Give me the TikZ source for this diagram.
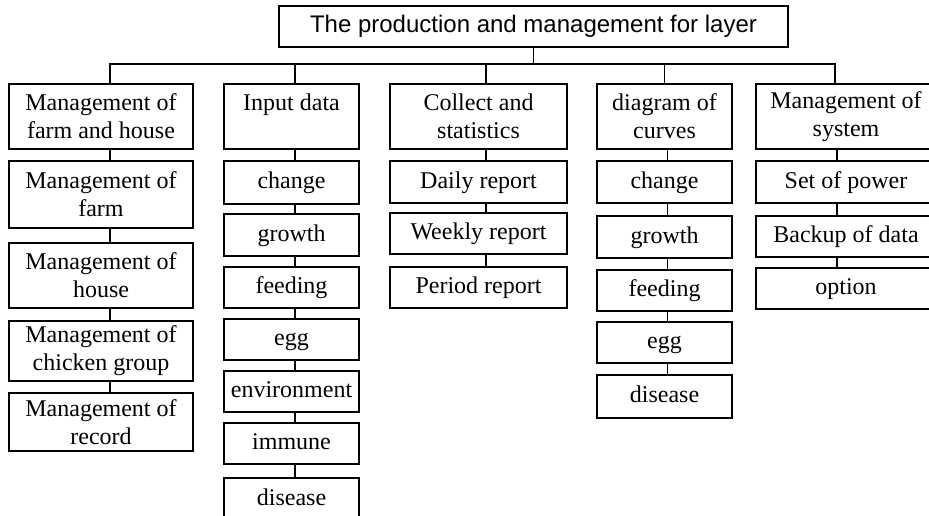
\documentclass[tikz,border=0pt]{standalone}
\usepackage{fontspec}
\setmainfont{Liberation Serif}
\newfontfamily\headfont{Liberation Sans}
\usetikzlibrary{positioning,calc}

\begin{document}
\begin{tikzpicture}[
  x=0.5pt, y=-0.5pt,
  box/.style={draw, line width=0.9pt, inner sep=0pt, align=center, anchor=north,
    font=\fontsize{12}{14}\selectfont},
  item/.style={box, text height=9.5pt, text depth=3pt},
  link/.style={line width=0.75pt},
]
  \clip (0,0) rectangle (929,515);

  % ── Root ──
  \node[item, font=\headfont\fontsize{12}{14}\selectfont,
    minimum width=254.5pt, minimum height=20.5pt] (root) at (533.5,5)
    {The production and management for layer};
  \coordinate (bus) at (533.5,64);
  \draw[link] (root.south) -- (bus);

  % ── Column 1: farm and house ──
  \begin{scope}[shift={(101,0)}, every node/.append style={minimum width=92pt}]
    \node[box, minimum height=32.5pt] (farmhouse) at (0,83) {Management of\\farm and house};
    \node[box, minimum height=33.5pt] (farm) at (0,160) {Management of\\farm};
    \node[box, minimum height=32.5pt] (house) at (0,242) {Management of\\house};
    \node[box, minimum height=30pt] (group) at (0,320) {Management of\\chicken group};
    \node[box, minimum height=29pt] (record) at (0,392) {Management of\\record};
  \end{scope}
  \draw[link] (bus) -| ([xshift=4.5pt]farmhouse.north);
  \foreach \a/\b in {farmhouse/farm, farm/house, house/group, group/record}
    \draw[link] ([xshift=4.5pt]\a.south) -- ([xshift=4.5pt]\b.north);

  % ── Column 2: input data ──
  \begin{scope}[shift={(291.5,0)}, every node/.append style={minimum width=67.5pt}]
    \node[box, minimum height=32.5pt] (input) at (0,83) {Input data\\\mbox{}};
    \node[item, minimum height=21.5pt] (inchange) at (0,160) {change};
    \node[item, minimum height=21pt] (ingrowth) at (0,213) {growth};
    \node[item, minimum height=20.5pt] (infeeding) at (0,266) {feeding};
    \node[item, minimum height=20.5pt] (inegg) at (0,318) {egg};
    \node[item, minimum height=20.5pt] (inenv) at (0,370) {environment};
    \node[item, minimum height=20.5pt] (inimmune) at (0,422) {immune};
    \node[item, minimum height=21pt] (indisease) at (0,477) {disease};
  \end{scope}
  \draw[link] (bus) -| ([xshift=1.75pt]input.north);
  \foreach \a/\b in {input/inchange, inchange/ingrowth, ingrowth/infeeding,
      infeeding/inegg, inegg/inenv, inenv/inimmune, inimmune/indisease}
    \draw[link] ([xshift=1.75pt]\a.south) -- ([xshift=1.75pt]\b.north);

  % ── Column 3: collect and statistics ──
  \begin{scope}[shift={(478.5,0)}, every node/.append style={minimum width=88.5pt}]
    \node[box, minimum height=32.5pt] (collect) at (0,83) {Collect and\\statistics};
    \node[item, minimum height=21pt] (daily) at (0,160) {Daily report};
    \node[item, minimum height=20.5pt] (weekly) at (0,212) {Weekly report};
    \node[item, minimum height=20.5pt] (period) at (0,266) {Period report};
  \end{scope}
  \draw[link] (bus) -| ([xshift=3.75pt]collect.north);
  \foreach \a/\b in {collect/daily, daily/weekly, weekly/period}
    \draw[link] ([xshift=3.75pt]\a.south) -- ([xshift=3.75pt]\b.north);

  % ── Column 4: diagram of curves ──
  \begin{scope}[shift={(664.5,0)}, every node/.append style={minimum width=67.5pt}]
    \node[box, minimum height=32.5pt] (curves) at (0,83) {diagram of\\curves};
    \node[item, minimum height=21pt] (cvchange) at (0,160) {change};
    \node[item, minimum height=21pt] (cvgrowth) at (0,215) {growth};
    \node[item, minimum height=20.5pt] (cvfeeding) at (0,269) {feeding};
    \node[item, minimum height=20.5pt] (cvegg) at (0,321) {egg};
    \node[item, minimum height=21.5pt] (cvdisease) at (0,374) {disease};
  \end{scope}
  \draw[link] (bus) -| (curves.north);
  \foreach \a/\b in {curves/cvchange, cvchange/cvgrowth, cvgrowth/cvfeeding,
      cvfeeding/cvegg, cvegg/cvdisease}
    \draw[link] ([xshift=1.5pt]\a.south) -- ([xshift=1.5pt]\b.north);

  % ── Column 5: management of system ──
  \begin{scope}[shift={(846,0)}, every node/.append style={minimum width=90pt}]
    \node[box, minimum height=32.5pt] (system) at (0,83) {Management of\\system};
    \node[item, minimum height=21pt] (power) at (0,160) {Set of power};
    \node[item, minimum height=20.5pt] (backup) at (0,215) {Backup of data};
    \node[item, minimum height=20.5pt] (option) at (0,267) {option};
  \end{scope}
  \draw[link] (bus) -| ([xshift=-5.5pt]system.north);
  \foreach \a/\b in {system/power, power/backup, backup/option}
    \draw[link] ([xshift=-4.5pt]\a.south) -- ([xshift=-4.5pt]\b.north);

\end{tikzpicture}
\end{document}
